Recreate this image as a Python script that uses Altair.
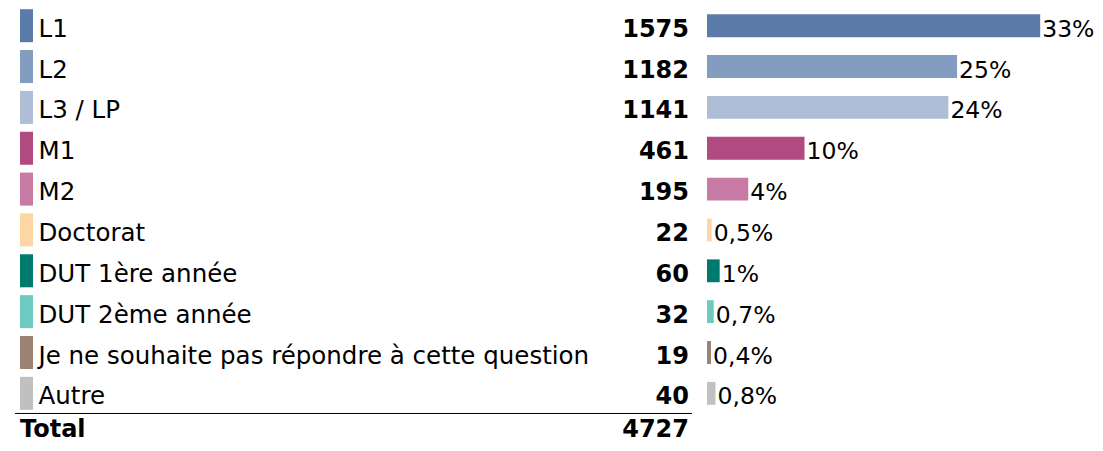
import altair as alt
import pandas as pd

categories = ["L1", "L2", "L3 / LP", "M1", "M2", "Doctorat", "DUT 1ère année",
              "DUT 2ème année", "Je ne souhaite pas répondre à cette question", "Autre"]
counts = [1575, 1182, 1141, 461, 195, 22, 60, 32, 19, 40]
pct_labels = ["33%", "25%", "24%", "10%", "4%", "0,5%", "1%", "0,7%", "0,4%", "0,8%"]
colors = ["#5b7ca8", "#829dbf", "#adbed6", "#b04a80", "#c77aa3", "#fdd6a4",
          "#007a6f", "#6ccac1", "#9b8275", "#c0c0c0"]
total_label = "Total"
total_value = 4727

df = pd.DataFrame({
    "idx": list(range(len(categories))),
    "cat": categories,
    "count": counts,
    "pct": pct_labels,
})
total_df = pd.DataFrame({"idx": [len(categories)], "label": [total_label], "value": [total_value]})

FONT = "DejaVu Sans"
yscale = alt.Scale(domain=[0, 10], range=[17.7, 426.2])
xscale = alt.Scale(domain=[0, total_value], range=[699, 1699])
cscale = alt.Scale(domain=categories, range=colors)

base = alt.Chart(df)

markers = base.transform_calculate(lo="datum.idx - 0.404", hi="datum.idx + 0.404").mark_rect().encode(
    x=alt.value(12), x2=alt.value(25),
    y=alt.Y("lo:Q", scale=yscale, axis=None), y2="hi:Q",
    color=alt.Color("cat:N", scale=cscale, legend=None),
)

labels = base.mark_text(align="left", baseline="middle", font=FONT, fontSize=24.5, dy=4, color="#000").encode(
    x=alt.value(30.5), y=alt.Y("idx:Q", scale=yscale, axis=None), text="cat:N",
)

numbers = base.mark_text(align="right", baseline="middle", font=FONT, fontSize=24, fontWeight="bold",
                         dy=4, color="#000").encode(
    x=alt.value(681), y=alt.Y("idx:Q", scale=yscale, axis=None),
    text=alt.Text("count:Q", format="d"),
)

bars = base.transform_calculate(lo="datum.idx - 0.28", hi="datum.idx + 0.28").mark_rect().encode(
    x=alt.X("count:Q", scale=xscale, axis=None), x2=alt.datum(0),
    y=alt.Y("lo:Q", scale=yscale, axis=None), y2="hi:Q",
    color=alt.Color("cat:N", scale=cscale, legend=None),
)

pcts = base.mark_text(align="left", baseline="middle", font=FONT, fontSize=23.5, dx=2, dy=4, color="#000").encode(
    x=alt.X("count:Q", scale=xscale, axis=None), y=alt.Y("idx:Q", scale=yscale, axis=None),
    text="pct:N",
)

sep = alt.Chart(total_df).transform_calculate(sy="datum.idx - 0.52").mark_rule(
    color="#000", strokeWidth=1, yOffset=0.5).encode(
    x=alt.value(7), x2=alt.value(684), y=alt.Y("sy:Q", scale=yscale, axis=None),
)

tot_label = alt.Chart(total_df).mark_text(align="left", baseline="middle", font=FONT, fontSize=24,
                                          fontWeight="bold", dy=-4, color="#000").encode(
    x=alt.value(12), y=alt.Y("idx:Q", scale=yscale, axis=None), text="label:N",
)
tot_value = alt.Chart(total_df).mark_text(align="right", baseline="middle", font=FONT, fontSize=24,
                                          fontWeight="bold", dy=-4, color="#000").encode(
    x=alt.value(681), y=alt.Y("idx:Q", scale=yscale, axis=None), text=alt.Text("value:Q", format="d"),
)

chart = alt.layer(markers, labels, numbers, bars, pcts, sep, tot_label, tot_value).properties(
    width=1087, height=435, padding=0, autosize=alt.AutoSizeParams(type="none"), background="white",
).configure_view(stroke=None)

chart.save("out.html", embed_options={"renderer": "svg", "actions": False})
